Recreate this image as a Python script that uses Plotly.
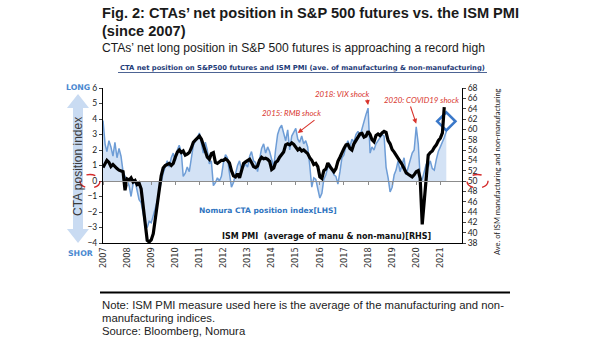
import plotly.graph_objects as go
import pandas as pd

# ---------------- data ----------------
cta_position = [
    3.9, 2.4, 1.9, 2.6, 2.2, 1.6, 2.5, 1.5, 2.1, 1.6, 0.6, 0.3,        # 2007
    0.1, -0.3, -1.0, -0.2, 0.0, -0.6, -1.2, -1.4, -2.2, -2.8, -3.0, -2.6,  # 2008
    -2.7, -2.3, -1.8, -1.3, -0.7, 0.0, 0.5, 0.9, 1.3, 0.9, 1.5, 1.8,   # 2009
    1.3, 2.0, 2.3, 1.9, 0.3, 0.5, 0.9, 0.6, 1.5, 2.3, 2.6, 2.8,        # 2010
    3.1, 2.4, 1.8, 2.5, 2.0, 1.1, 1.3, -0.3, -0.1, 0.2, 0.0, 0.3,      # 2011
    1.2, 1.7, 1.5, 0.5, -0.4, -0.1, 0.4, 1.0, 1.3, 0.7, 0.9, 1.1,      # 2012
    0.9, 1.6, 1.9, 1.3, 1.2, 0.6, 1.4, 2.1, 2.4, 1.8, 2.2, 1.9,        # 2013
    1.4, 0.9, 2.0, 3.0, 3.4, 3.6, 3.1, 2.6, 3.3, 2.0, 2.9, 3.2,        # 2014
    3.4, 2.7, 2.5, 2.9, 2.4, 2.6, 2.2, 1.0, -0.4, 0.2, 0.1, -0.5,      # 2015
    -1.1, -0.8, 0.1, 0.4, 0.9, 1.1, 0.8, 0.4, 0.3, -0.2, 0.6, 1.5,     # 2016
    1.7, 2.3, 2.6, 2.2, 2.7, 2.5, 3.0, 3.2, 2.9, 3.4, 3.9, 4.3,        # 2017
    4.7, 1.8, 2.2, 2.0, 2.4, 2.6, 2.8, 3.0, 2.9, 0.9, 0.2, -0.7,       # 2018
    -0.4, 0.4, 0.7, 1.3, 0.6, 1.1, 1.5, 0.4, 0.9, 1.2, 1.8, 2.0,       # 2019
    3.5, 2.4, 0.2, 0.1, 0.6, 1.1, 0.9, 1.3, 0.8, 0.7, 1.4, 1.9,        # 2020
    2.2, 2.5, 2.8, 3.2,                                                # 2021
]

ism_pmi = [
    52.6, 53.4, 54.0, 53.6, 52.8, 53.2, 52.7, 52.4, 52.1, 52.0, 51.8, 48.2,  # 2007
    50.4, 50.2, 50.6, 49.8, 50.1, 49.3, 49.6, 48.5, 45.0, 41.0, 38.5, 38.2,  # 2008
    38.6, 39.8, 42.5, 45.5, 48.5, 51.0, 52.5, 53.0, 53.2, 53.4, 53.0, 53.4,  # 2009
    54.6, 55.6, 56.0, 55.5, 55.8, 55.0, 55.2, 55.5, 56.4, 57.5, 57.9, 58.2,  # 2010
    58.7, 58.1, 57.0, 55.5, 54.6, 54.2, 55.3, 55.5, 53.6, 53.4, 53.7, 54.0,  # 2011
    54.0, 54.3, 54.0, 53.5, 52.0, 51.0, 50.8, 51.4, 50.6, 52.0, 53.4, 53.7,  # 2012
    54.0, 54.2, 53.6, 52.8, 52.6, 52.9, 54.0, 54.6, 54.3, 54.4, 54.2, 53.8,  # 2013
    52.2, 52.5, 53.6, 53.9, 54.6, 55.1, 55.6, 57.0, 57.2, 57.0, 57.4, 57.1,  # 2014
    56.4, 56.0, 56.3, 55.8, 56.0, 55.7, 55.3, 54.5, 54.0, 53.2, 53.4, 52.8,  # 2015
    50.8, 50.5, 52.0, 52.3, 53.5, 52.8, 52.2, 51.8, 52.4, 53.8, 54.6, 55.6,  # 2016
    56.3, 57.0, 57.1, 56.3, 56.0, 57.2, 57.8, 58.4, 59.1, 59.2, 58.5, 58.7,  # 2017
    59.6, 59.0, 58.0, 57.6, 58.8, 59.1, 58.8, 59.3, 59.6, 59.4, 57.8, 57.2,  # 2018
    56.1, 55.6, 55.0, 54.2, 53.8, 53.2, 52.4, 51.6, 51.3, 51.0, 50.8, 51.2,  # 2019
    51.8, 52.0, 50.5, 41.6, 46.0, 52.3, 55.0, 55.5, 55.8, 56.5, 57.0, 57.8,  # 2020
    58.3, 59.3, 64.3,                                                        # 2021
]

year_ticks = list(range(2007, 2022))
cta_range = [-4, 6]
pmi_range = [38, 68]
x_range = ["2007-01-01", "2021-11-25"]
latest_cta_date = "2021-04-01"
latest_cta_level = 3.85
# event call-outs: (label, date the arrow points at, CTA level it points at)
events = [("2015: RMB shock", "2015-02-01", 3.1),
          ("2018: VIX shock", "2018-01-01", 4.9),
          ("2020: COVID19 shock", "2020-01-01", 3.7)]

cta_dates = pd.date_range("2007-01-01", periods=len(cta_position), freq="MS")
pmi_dates = pd.date_range("2007-01-01", periods=len(ism_pmi), freq="MS")
tick_dates = [f"{y}-01-01" for y in year_ticks]
tick_text = [str(y) for y in year_ticks]

# ---------------- geometry helpers (pixel -> paper) ----------------
W, H = 605, 341
L, R, T, B = 103, 462, 88, 243


def px(x):
    return (x - L) / (R - L)


def py(y):
    return (B - y) / (B - T)


x0_ts, x1_ts = pd.Timestamp(x_range[0]), pd.Timestamp(x_range[1])


def data_px(date, level):
    f = (pd.Timestamp(date) - x0_ts) / (x1_ts - x0_ts)
    g = (level - cta_range[0]) / (cta_range[1] - cta_range[0])
    return L + f * (R - L), B - g * (B - T)


fig = go.Figure()
fig.add_trace(go.Scatter(
    x=cta_dates, y=cta_position, mode="lines", yaxis="y",
    line=dict(color="#6e9dd6", width=1.5),
    fill="tozeroy", fillcolor="rgba(196,216,241,0.75)", hoverinfo="skip"))
fig.add_trace(go.Scatter(
    x=cta_dates, y=cta_position, mode="lines", xaxis="x2", yaxis="y",
    line=dict(width=0, color="rgba(0,0,0,0)"), hoverinfo="skip"))
fig.add_trace(go.Scatter(
    x=pmi_dates, y=ism_pmi, mode="lines", yaxis="y2",
    line=dict(color="#000000", width=3.2), hoverinfo="skip"))
fig.add_trace(go.Scatter(
    x=[latest_cta_date], y=[latest_cta_level], mode="markers", yaxis="y",
    marker=dict(symbol="diamond-open", size=14, color="#3a78c9",
                line=dict(width=2.6, color="#3a78c9")), hoverinfo="skip"))

tickfont = dict(family="Lato", size=8.5, color="#222222")
zero_pos = (0 - cta_range[0]) / (cta_range[1] - cta_range[0])

fig.update_layout(
    width=W, height=H, showlegend=False,
    margin=dict(l=L, r=W - R, t=T, b=H - B),
    paper_bgcolor="white", plot_bgcolor="white",
    xaxis=dict(type="date", range=x_range, tickmode="array", tickvals=tick_dates,
               ticktext=tick_text, tickangle=-90, showgrid=False, zeroline=False,
               showline=True, linecolor="#000000", linewidth=1, ticks="",
               tickfont=dict(family="DejaVu Sans", size=8.2, color="#333333")),
    xaxis2=dict(type="date", range=x_range, overlaying="x", anchor="free",
                position=zero_pos, tickmode="array", tickvals=tick_dates,
                showticklabels=False, showgrid=False, zeroline=False,
                showline=True, linecolor="#8c8c8c", linewidth=1,
                ticks="outside", ticklen=3, tickcolor="#8c8c8c"),
    yaxis=dict(range=cta_range, dtick=1, showgrid=False, zeroline=False,
               showline=True, linecolor="#000000", ticks="outside", ticklen=3,
               tickfont=tickfont),
    yaxis2=dict(range=pmi_range, dtick=2, overlaying="y", side="right",
                showgrid=False, zeroline=False, showline=True,
                linecolor="#000000", ticks="outside", ticklen=3,
                tickfont=tickfont),
)

ann = []
# titles
ann.append(dict(x=px(100), y=py(13), xanchor="left", yanchor="middle",
                text="<b>Fig. 2: CTAs’ net position in S&P 500 futures vs. the ISM PMI</b>",
                font=dict(family="Liberation Sans", size=14.6, color="#1a1a1a")))
ann.append(dict(x=px(100), y=py(30.5), xanchor="left", yanchor="middle",
                text="<b>(since 2007)</b>",
                font=dict(family="Liberation Sans", size=14.6, color="#1a1a1a")))
ann.append(dict(x=px(100), y=py(48.5), xanchor="left", yanchor="middle",
                text="CTAs’ net long position in S&P 500 futures is approaching a record high",
                font=dict(family="Liberation Sans", size=12.1, color="#1a1a1a")))
ann.append(dict(x=px(302), y=py(68), xanchor="center", yanchor="middle",
                text="<b>CTA net position on S&P500 futures and ISM PMI (ave. of manufacturing & non-manufacturing)</b>",
                font=dict(family="DejaVu Sans", size=6.8, color="#1f3c78")))
# left side arrow labels
ann.append(dict(x=px(78), y=py(87), xanchor="center", yanchor="middle", text="<b>LONG</b>",
                font=dict(family="DejaVu Sans", size=7.8, color="#4a88d0")))
ann.append(dict(x=px(80), y=py(253), xanchor="center", yanchor="middle", text="<b>SHOR</b>",
                font=dict(family="DejaVu Sans", size=7.8, color="#4a88d0")))
ann.append(dict(x=px(78), y=py(167), xanchor="center", yanchor="middle", textangle=-90,
                text="CTA position index",
                font=dict(family="Liberation Sans", size=12, color="#3a3a3a")))
ann.append(dict(x=px(497), y=py(172), xanchor="center", yanchor="middle", textangle=-90,
                text="Ave. of ISM manufacturing and non-manufacturing",
                font=dict(family="Lato", size=7.5, color="#222222")))
# series labels
ann.append(dict(x=px(197), y=py(210), xanchor="left", yanchor="middle",
                text="<b>Nomura CTA position index[LHS]</b>",
                font=dict(family="DejaVu Sans", size=7.5, color="#2f74bf")))
ann.append(dict(x=px(220), y=py(236), xanchor="left", yanchor="middle",
                text="<b>ISM PMI  (average of manu & non-manu)[RHS]</b>",
                font=dict(family="DejaVu Sans", size=8, color="#111111")))
# event labels with arrows pointing at the CTA line
red = "#d8342c"
label_centres = [(291, 113), (342, 94), (421, 100)]
arrow_tails = [(316, 119), (367, 98), (410, 105)]
for (txt, d, lvl), (cx, cy), (tx, ty) in zip(events, label_centres, arrow_tails):
    ann.append(dict(x=px(cx), y=py(cy), xanchor="center", yanchor="middle",
                    text=f"<i>{txt}</i>",
                    font=dict(family="Lato", size=7.9, color=red)))
    hx, hy = data_px(d, lvl)
    ann.append(dict(x=d, y=lvl, xref="x", yref="y", ax=tx - hx, ay=ty - hy, text="",
                    showarrow=True, arrowhead=2, arrowsize=0.9, arrowwidth=1.1,
                    arrowcolor=red, standoff=0))
# notes
note_lines = ["Note: ISM PMI measure used here is the average of the manufacturing and non-",
              "manufacturing indices.", "Source: Bloomberg, Nomura"]
for i, line in enumerate(note_lines):
    ann.append(dict(x=px(100), y=py(305 + 13.2 * i), xanchor="left", yanchor="middle",
                    text=line, font=dict(family="Liberation Sans", size=11.3, color="#222222")))
for a in ann:
    a.setdefault("xref", "paper")
    a.setdefault("yref", "paper")
    a.setdefault("showarrow", False)
fig.update_layout(annotations=ann)

# shapes: light-blue double arrow, underline, dashed circles, separator
arrow_pts = [(78, 94), (67, 108), (73, 108), (73, 229), (67, 229), (78, 243),
             (89, 229), (83, 229), (83, 108), (89, 108)]
path = "M " + " L ".join(f"{px(x):.4f},{py(y):.4f}" for x, y in arrow_pts) + " Z"
shapes = [
    dict(type="path", xref="paper", yref="paper", path=path, layer="below",
         fillcolor="#c9dbf2", line=dict(width=0)),
    dict(type="line", xref="paper", yref="paper", x0=px(118), x1=px(487), y0=py(72.5), y1=py(72.5),
         line=dict(color="#1f3c78", width=0.8)),
    dict(type="circle", xref="paper", yref="paper", x0=px(80), x1=px(100), y0=py(174.5), y1=py(188),
         line=dict(color="#d42a2a", width=1.4, dash="dash")),
    dict(type="circle", xref="paper", yref="paper", x0=px(467), x1=px(488), y0=py(174.5), y1=py(188),
         line=dict(color="#d42a2a", width=1.4, dash="dash")),
    dict(type="line", xref="paper", yref="paper", x0=px(100), x1=px(510), y0=py(292.5), y1=py(292.5),
         line=dict(color="#000000", width=2)),
]
fig.update_layout(shapes=shapes)

fig.write_html("out.html")
